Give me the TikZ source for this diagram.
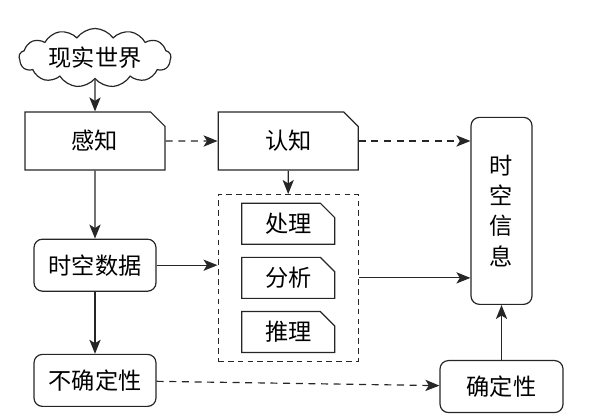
\documentclass[tikz,border=0pt]{standalone}
\usepackage{fontspec}
\newfontfamily\cjk{Noto Sans CJK SC}
\usepackage{xcolor}
\usepackage{tikz}
\usetikzlibrary{shapes.misc, shapes.symbols, arrows, arrows.meta, positioning, calc, fit}

\begin{document}
\begin{tikzpicture}[
    font=\cjk\fontsize{16.5}{21.5}\selectfont,
    line/.style={draw=black!85, line width=0.85pt},
    fold/.style={line, chamfered rectangle, chamfered rectangle corners=north east, chamfered rectangle xsep=0.18cm, chamfered rectangle ysep=0.18cm, inner sep=0pt, align=center},
    rbox/.style={line, rounded corners=6pt, inner sep=0pt, align=center},
    arrow/.style={-{Stealth[length=10pt, width=8pt, inset=2.5pt]}, line},
    darrow/.style={arrow, dash pattern=on 5pt off 4pt}
]
    \useasboundingbox (-2.375,3.525) rectangle (12.55,-6.9);

    \node[fold, minimum width=3.5cm, minimum height=1.45cm] (ganzhi) at (0,0) {感知};
    \node[line, cloud, cloud puffs=13, cloud puff arc=110, aspect=3, minimum width=3.8cm, minimum height=1.35cm, inner sep=0pt, above=0.8cm of ganzhi] (world) {现实世界};
    \node[fold, minimum width=3.5cm, minimum height=1.45cm, right=1.3cm of ganzhi] (renzhi) {认知};

    \node[rbox, minimum width=3.05cm, minimum height=1.3cm, below=1.7cm of ganzhi] (shuju) {时空数据};
    \node[rbox, minimum width=3.05cm, minimum height=1.3cm, below=1.55cm of shuju] (buqueding) {不确定性};

    % processing steps
    \node[fold, minimum width=2.325cm, minimum height=1.025cm, below=0.8cm of renzhi] (chuli) {处理};
    \node[fold, minimum width=2.325cm, minimum height=1.025cm, below=0.3cm of chuli] (fenxi) {分析};
    \node[fold, minimum width=2.325cm, minimum height=1.025cm, below=0.3cm of fenxi] (tuili) {推理};
    \node[line, dash pattern=on 4pt off 3pt, fit=(chuli) (fenxi) (tuili), inner xsep=0.575cm, inner ysep=0.2cm] (group) {};

    \node[rbox, minimum width=1.525cm, minimum height=4.675cm, anchor=north west] (xinxi) at ($(renzhi.north east)+(2.975,0.05)$) {时\\空\\信\\息};
    \node[rbox, minimum width=3.075cm, minimum height=1.3cm, below=1.375cm of xinxi] (queding) {确定性};

    \draw[arrow] (world) -- (ganzhi);
    \draw[darrow] (ganzhi) -- (renzhi);
    \draw[darrow] (renzhi.east) -- (renzhi.east -| xinxi.west);
    \draw[arrow] (renzhi) -- (group);
    \draw[arrow] (ganzhi) -- (shuju);
    \draw[arrow] (shuju.east) -- (shuju.east -| group.west);
    \draw[arrow] (group.east) -- (group.east -| xinxi.west);
    \draw[arrow] (shuju) -- (buqueding);
    \draw[darrow] (buqueding) -- (queding);
    \draw[arrow] (queding) -- (xinxi);
\end{tikzpicture}
\end{document}
